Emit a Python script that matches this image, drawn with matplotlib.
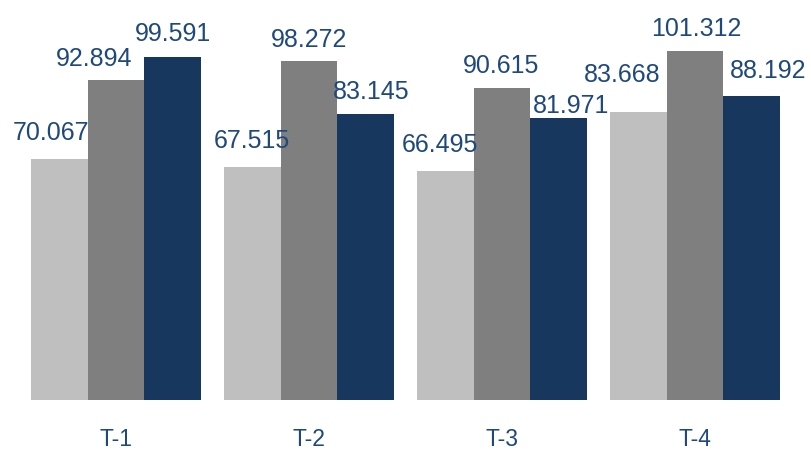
import matplotlib
matplotlib.use("Agg")
import matplotlib.pyplot as plt
import numpy as np

# data
groups = ["T-1", "T-2", "T-3", "T-4"]
series_a = [70.067, 67.515, 66.495, 83.668]
series_b = [92.894, 98.272, 90.615, 101.312]
series_c = [99.591, 83.145, 81.971, 88.192]

colors = ["#BFBFBF", "#7F7F7F", "#17375E"]
text_color = "#1F497D"

# label nudges in pixels (dx, dy above bar top), per series then group
label_offsets = [
    [(-8, 19), (-1, 19), (-6, 19), (-16, 30)],
    [(-22, 14), (0, 14), (-1, 15), (1, 15)],
    [(0, 16), (6, 15), (12, 5), (17, 18)],
]

plt.rcParams['font.family'] = ['Liberation Sans', 'DejaVu Sans']

fig = plt.figure(figsize=(8.12, 4.53), dpi=100)
ax = fig.add_axes([0, 53 / 453, 1, 400 / 453])

x = np.arange(len(groups))
w = 0.293
all_series = [series_a, series_b, series_c]
for i, vals in enumerate(all_series):
    pos = x + (i - 1) * w
    ax.bar(pos, vals, width=w, color=colors[i], linewidth=0)
    for j, v in enumerate(vals):
        dx, dy = label_offsets[i][j]
        ax.annotate(f"{v:.3f}", (pos[j], v), xytext=(dx, dy),
                    textcoords="offset pixels", ha="center", va="baseline",
                    fontsize=18, color=text_color)

ax.set_xlim(-0.601, 3.606)
ax.set_ylim(0, 116.1)
ax.set_xticks(x)
ax.set_xticklabels(groups, fontsize=16.5, color=text_color)
ax.tick_params(axis="x", length=0, pad=20)
ax.set_yticks([])
for s in ax.spines.values():
    s.set_visible(False)

fig.savefig("out.png", dpi=100)
